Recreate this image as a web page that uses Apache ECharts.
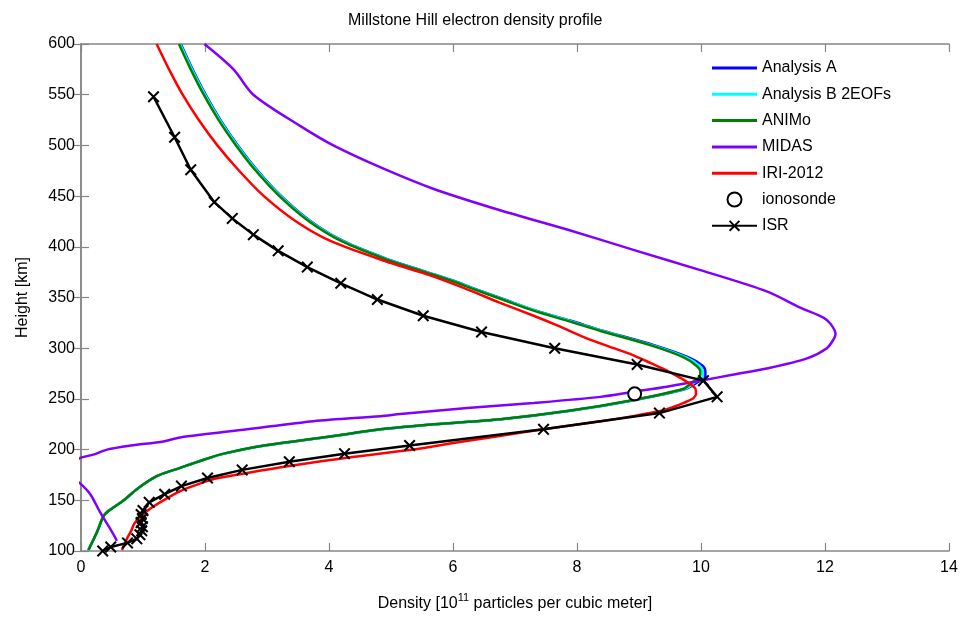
<!DOCTYPE html>
<html>
<head>
<meta charset="utf-8">
<script src="https://cdn.jsdelivr.net/npm/echarts@6/dist/echarts.min.js"></script>
<style>
html,body{margin:0;padding:0;background:#fff;}
#chart{width:965px;height:617px;}
</style>
</head>
<body>
<div id="chart"></div>
<script>
// ---- Data (density in 1e11 m^-3, height in km) ----
const xTicks = [0, 2, 4, 6, 8, 10, 12, 14];
const yTicks = [100, 150, 200, 250, 300, 350, 400, 450, 500, 550, 600];

const animoH = [600, 575, 550, 525, 500, 475, 450, 425, 405, 387, 376, 366, 359, 348, 337, 327, 317, 303, 291, 283, 277, 272, 266, 260, 249, 238, 230, 225, 220, 213, 204, 196, 190, 182, 174, 161, 150, 142, 135, 119, 101];
const animoX = [1.58, 1.77, 1.98, 2.22, 2.5, 2.82, 3.2, 3.68, 4.22, 4.95, 5.5, 6.0, 6.3, 6.8, 7.3, 7.85, 8.38, 9.18, 9.72, 9.92, 9.99, 9.98, 9.85, 9.72, 8.91, 7.84, 6.76, 5.69, 4.83, 4.02, 2.95, 2.3, 1.98, 1.6, 1.23, 0.9, 0.69, 0.5, 0.37, 0.26, 0.12];

const analysisAH = animoH;
const analysisAX = [1.61, 1.8, 2.01, 2.25, 2.53, 2.85, 3.23, 3.71, 4.25, 4.98, 5.53, 6.03, 6.33, 6.83, 7.34, 7.9, 8.43, 9.24, 9.8, 10.02, 10.07, 10.07, 9.93, 9.76, 8.94, 7.86, 6.78, 5.7, 4.84, 4.03, 2.96, 2.31, 1.98, 1.6, 1.23, 0.9, 0.69, 0.5, 0.37, 0.26, 0.12];

const analysisBH = animoH;
const analysisBX = [1.6, 1.79, 2.0, 2.24, 2.52, 2.84, 3.22, 3.7, 4.24, 4.97, 5.52, 6.02, 6.32, 6.82, 7.33, 7.88, 8.41, 9.21, 9.76, 9.97, 10.03, 10.03, 9.89, 9.74, 8.93, 7.85, 6.77, 5.7, 4.84, 4.03, 2.96, 2.31, 1.98, 1.6, 1.23, 0.9, 0.69, 0.5, 0.37, 0.26, 0.12];

const midasH = [600, 575, 550, 519, 500, 477, 457, 436, 417, 397, 377, 356, 340, 330, 324, 314, 309, 300, 290, 280, 274, 268, 262, 257, 252, 246, 241, 235, 233, 228, 220, 212, 208, 204, 200, 195, 192, 186, 176, 166, 156, 138, 122, 110];
const midasX = [1.99, 2.46, 2.78, 3.54, 4.07, 4.88, 5.69, 6.76, 7.84, 8.91, 9.99, 11.06, 11.6, 11.98, 12.09, 12.17, 12.14, 12.03, 11.71, 11.06, 10.53, 9.99, 9.45, 8.91, 8.38, 7.3, 6.23, 5.15, 4.83, 3.75, 2.68, 1.6, 1.33, 0.8, 0.42, 0.2, 0.0, -0.15, -0.2, 0.0, 0.15, 0.31, 0.47, 0.58];

const iriH = [600, 575, 550, 525, 500, 475, 450, 425, 405, 384, 372, 358, 345, 332, 322, 311, 302, 293, 285, 278, 272, 267, 260, 255, 251, 246, 242, 238, 233, 228, 221, 213, 206, 200, 192, 184, 177, 171, 165, 159, 150, 142, 135, 127, 120, 112, 101];
const iriX = [1.22, 1.42, 1.64, 1.9, 2.2, 2.55, 2.95, 3.47, 4.05, 5.0, 5.62, 6.23, 6.75, 7.3, 7.7, 8.11, 8.5, 8.91, 9.2, 9.45, 9.63, 9.77, 9.91, 9.92, 9.88, 9.72, 9.55, 9.34, 8.9, 8.38, 7.57, 6.7, 5.95, 5.36, 4.29, 3.38, 2.68, 2.14, 1.85, 1.6, 1.33, 1.12, 0.98, 0.86, 0.81, 0.74, 0.66];

const ionosondeH = [255];
const ionosondeX = [8.93];

const isrH = [548, 508, 476, 444, 428, 412, 396, 380, 364, 348, 332, 316, 300, 284, 268, 252, 236, 220, 204, 196, 188, 180, 172, 164, 156, 148, 140, 136, 132, 128, 124, 120, 116, 112, 108, 104, 100];
const isrX = [1.17, 1.51, 1.77, 2.15, 2.44, 2.78, 3.18, 3.65, 4.19, 4.78, 5.52, 6.46, 7.64, 8.97, 10.04, 10.26, 9.33, 7.46, 5.3, 4.25, 3.36, 2.6, 2.04, 1.62, 1.35, 1.1, 1.0, 0.97, 0.99, 0.97, 0.99, 0.98, 0.95, 0.9, 0.75, 0.48, 0.35];

function pairs(xs, hs) { return xs.map((x, i) => [x, hs[i]]); }

const FONT = '"Liberation Sans", Arial, Helvetica, sans-serif';
const AXIS_COLOR = '#868686';
const xSymbol = 'path://M0,1.2L1.2,0L5,3.8L8.8,0L10,1.2L6.2,5L10,8.8L8.8,10L5,6.2L1.2,10L0,8.8L3.8,5Z';
const lineIcon = 'path://M0,0H45V3H0Z';

const chart = echarts.init(document.getElementById('chart'), null, { renderer: 'canvas' });

const baseAxis = {
  axisLine: { show: true, lineStyle: { color: AXIS_COLOR, width: 1.5 } },
  axisTick: { show: true, inside: true, length: 8, lineStyle: { color: AXIS_COLOR, width: 1.2 } },
  splitLine: { show: false }
};

function lineSeries(name, xs, hs, color, z) {
  return {
    name: name, type: 'line', data: pairs(xs, hs),
    symbol: 'none', smooth: 0.3, clip: true, z: z,
    lineStyle: { color: color, width: 2.5 },
    itemStyle: { color: color }
  };
}

const option = {
  animation: false,
  backgroundColor: '#fff',
  textStyle: { fontFamily: FONT },
  title: {
    text: 'Millstone Hill electron density profile',
    left: 343, top: 8,
    textStyle: { fontFamily: FONT, fontSize: 16, fontWeight: 'normal', color: '#000' }
  },
  grid: { left: 81, right: 16, top: 44, bottom: 61, containLabel: false },
  legend: {
    orient: 'vertical', left: 706, top: 55,
    itemWidth: 45, itemHeight: 14, itemGap: 10.3,
    textStyle: { fontFamily: FONT, fontSize: 16, color: '#000' },
    data: [
      { name: 'Analysis A', icon: lineIcon },
      { name: 'Analysis B 2EOFs', icon: lineIcon },
      { name: 'ANIMo', icon: lineIcon },
      { name: 'MIDAS', icon: lineIcon },
      { name: 'IRI-2012', icon: lineIcon },
      'ionosonde',
      'ISR'
    ]
  },
  xAxis: [
    Object.assign({}, baseAxis, {
      type: 'value', position: 'bottom',
      min: xTicks[0], max: xTicks[xTicks.length - 1], interval: xTicks[1] - xTicks[0],
      axisLabel: { show: true, fontFamily: FONT, fontSize: 16, color: '#000', margin: 9 },
      name: '{a|Density [10}{s|11}{a| particles per cubic meter]}',
      nameLocation: 'middle', nameGap: 41,
      nameTextStyle: {
        fontFamily: FONT, color: '#000',
        rich: {
          a: { fontFamily: FONT, fontSize: 16, color: '#000', lineHeight: 20, verticalAlign: 'bottom' },
          s: { fontFamily: FONT, fontSize: 11, color: '#000', lineHeight: 20, verticalAlign: 'top', padding: [0, 0, 6, 0] }
        }
      }
    }),
    Object.assign({}, baseAxis, {
      type: 'value', position: 'top',
      min: xTicks[0], max: xTicks[xTicks.length - 1], interval: xTicks[1] - xTicks[0],
      axisLabel: { show: false }
    })
  ],
  yAxis: [
    Object.assign({}, baseAxis, {
      type: 'value', position: 'left',
      min: yTicks[0], max: yTicks[yTicks.length - 1], interval: yTicks[1] - yTicks[0],
      axisLabel: { show: true, fontFamily: FONT, fontSize: 16, color: '#000', margin: 6 },
      name: 'Height [km]', nameLocation: 'middle', nameGap: 50, nameRotate: 90,
      nameTextStyle: { fontFamily: FONT, fontSize: 16, color: '#000' }
    }),
    Object.assign({}, baseAxis, {
      type: 'value', position: 'right',
      min: yTicks[0], max: yTicks[yTicks.length - 1], interval: yTicks[1] - yTicks[0],
      axisLabel: { show: false }
    })
  ],
  series: [
    lineSeries('Analysis A', analysisAX, analysisAH, '#0000ff', 2),
    lineSeries('Analysis B 2EOFs', analysisBX, analysisBH, '#00ffff', 3),
    lineSeries('ANIMo', animoX, animoH, '#008000', 4),
    lineSeries('MIDAS', midasX, midasH, '#8000ff', 5),
    lineSeries('IRI-2012', iriX, iriH, '#ff0000', 6),
    {
      name: 'ionosonde', type: 'scatter', data: pairs(ionosondeX, ionosondeH), z: 7,
      symbol: 'emptyCircle', symbolSize: 13,
      itemStyle: { color: '#000', borderColor: '#000', borderWidth: 2.5, opacity: 1 }
    },
    {
      name: 'ISR', type: 'line', data: pairs(isrX, isrH), z: 8,
      symbol: xSymbol, symbolSize: 12, showSymbol: true, showAllSymbol: true,
      lineStyle: { color: '#000', width: 2.5 },
      itemStyle: { color: '#000' }
    }
  ]
};
chart.setOption(option);
</script>
</body>
</html>
